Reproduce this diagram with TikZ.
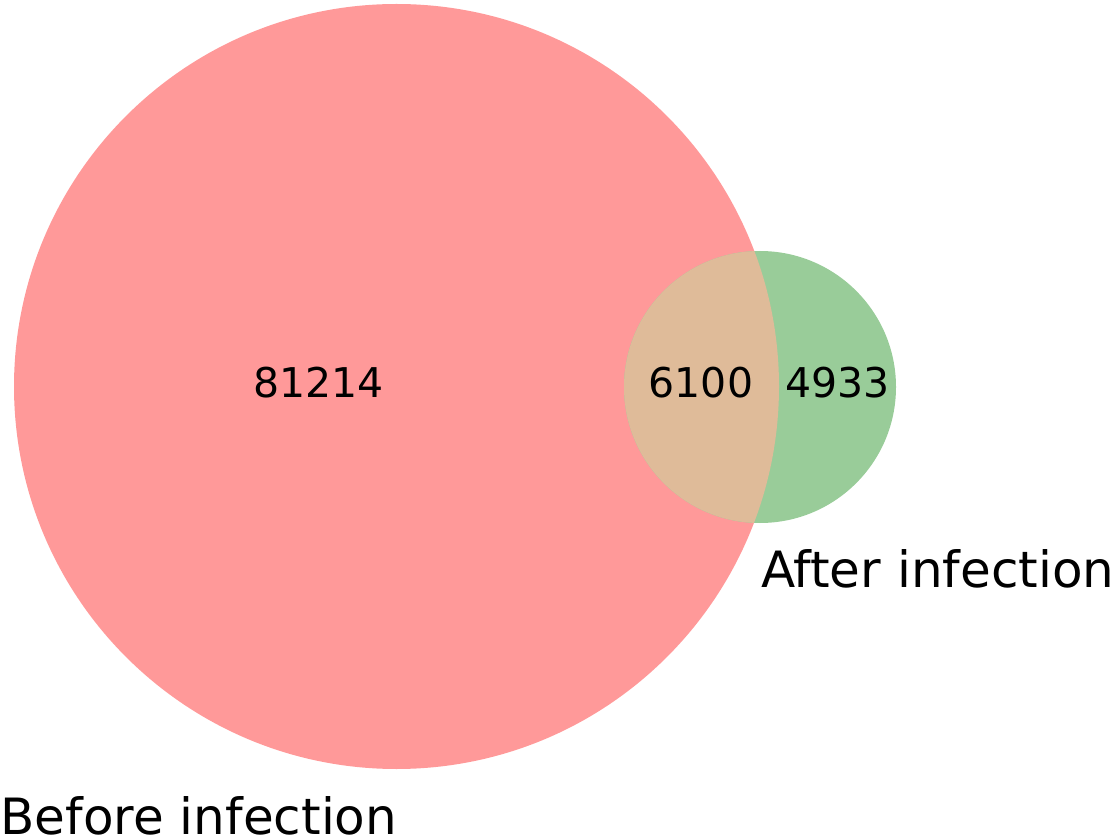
\documentclass[tikz,border=0pt]{standalone}
\usepackage{fontspec}
\setmainfont{DejaVu Sans}
\definecolor{vred}{HTML}{FF9999}
\definecolor{vgreen}{HTML}{99CC99}
\definecolor{vmix}{HTML}{DFBB99}
\tikzset{
  num/.style={font=\fontsize{41}{48}\selectfont, inner sep=0pt},
  setlabel/.style={font=\fontsize{50}{58}\selectfont, inner sep=0pt, anchor=base west},
}
\begin{document}
\begin{tikzpicture}[x=1pt,y=1pt]
\useasboundingbox (0,0) rectangle (1116,839);
% circles (y = 839 - pixel y)
\coordinate (cA) at (396.5,452.5);
\coordinate (cB) at (760,452);
\fill[vred] (cA) circle[radius=382.5];
\fill[vgreen] (cB) circle[radius=136];
\begin{scope}
  \clip (cA) circle[radius=382.5];
  \fill[vmix] (cB) circle[radius=136];
\end{scope}
\node[num] (n10) at (318.5,456) {81214};
\node[num] (n11) at (701,456) {6100};
\node[num] (n01) at (837.5,456) {4933};
\node[setlabel] (lA) at (0.5,5) {Before infection};
\node[setlabel] (lB) at (761,252) {After infection};
\end{tikzpicture}
\end{document}
